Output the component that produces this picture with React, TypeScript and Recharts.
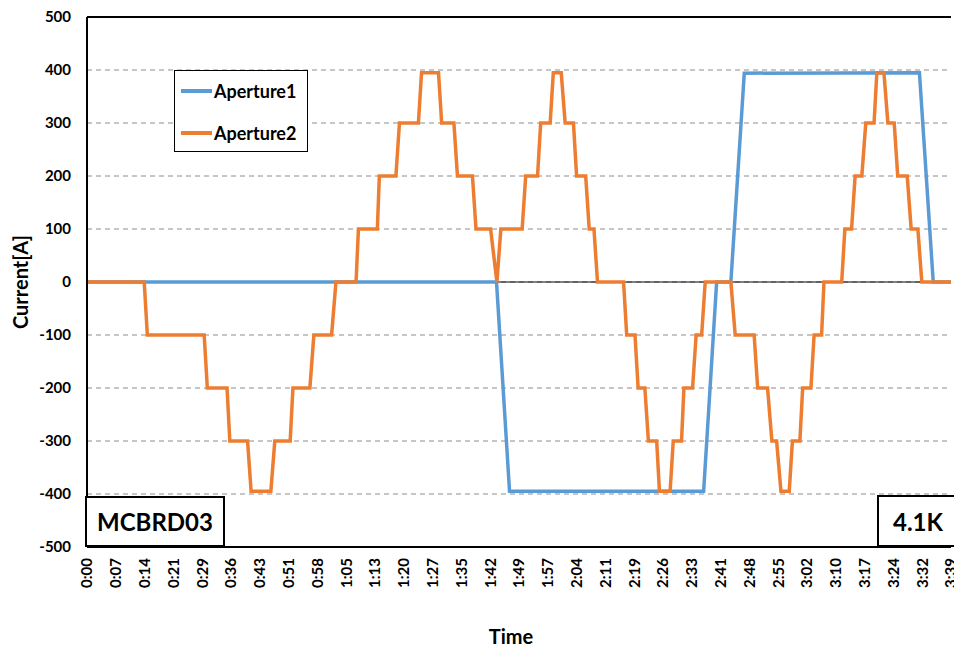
import React from 'react';
import { LineChart, Line, XAxis, YAxis, CartesianGrid, ReferenceLine } from 'recharts';

// Time axis: 0:00 .. 3:39, 30 equal intervals
const TOTAL_SECONDS = 219;
const TICK_LABELS = [
  '0:00', '0:07', '0:14', '0:21', '0:29', '0:36', '0:43', '0:51', '0:58', '1:05',
  '1:13', '1:20', '1:27', '1:35', '1:42', '1:49', '1:57', '2:04', '2:11', '2:19',
  '2:26', '2:33', '2:41', '2:48', '2:55', '3:02', '3:10', '3:17', '3:24', '3:32', '3:39',
];
const TICK_STEP = TOTAL_SECONDS / (TICK_LABELS.length - 1);
const X_TICKS = TICK_LABELS.map((_, i) => i * TICK_STEP);
const Y_TICKS = [-500, -400, -300, -200, -100, 0, 100, 200, 300, 400, 500];

// Aperture1 current profile (seconds, A)
const A1_TIME = [0, 103.8, 107.1, 156.3, 159.6, 163.2, 166.6, 211, 214.5, 219];
const A1_CURRENT = [0, 0, -395, -395, 0, 0, 394, 395, 0, 0];

// Aperture2 current profile (seconds, A)
const A2_TIME = [
  0, 14.5, 15.3, 29.7, 30.5, 35.5, 36.2, 40.7, 41.6, 46.6, 47.6, 51.5, 52.2, 56.5, 57.5, 62, 63.1,
  68.2, 68.8, 73.6, 74.1, 78.3, 79.2, 84, 84.8, 89.1, 89.9, 93, 93.9, 97.7, 98.6, 102.3, 103.9,
  104.9, 110.3, 111.2, 114.2, 115, 117.4, 118.2, 120.2, 121.2, 123.3, 124.1, 126.4, 127.3, 128.5, 129.4,
  136, 136.8, 138.9, 139.7, 141.4, 142.3, 144.4, 145.1, 147.8, 148.6, 150.7, 151.3, 153.5, 154.4, 155.8, 156.7,
  163.2, 164.3, 169.1, 170, 172.5, 173.6, 174.8, 175.9, 178, 178.8, 180.7, 181.4, 183.5, 184.3, 186.2, 186.8,
  191.3, 192.1, 193.8, 194.7, 196.4, 197.4, 199.5, 200.2, 202, 203, 204.6, 205.5, 207.9, 208.9, 210.6, 211.6, 219,
];
const A2_CURRENT = [
  0, 0, -100, -100, -200, -200, -300, -300, -395, -395, -300, -300, -200, -200, -100, -100, 0,
  0, 100, 100, 200, 200, 300, 300, 395, 395, 300, 300, 200, 200, 100, 100, 0,
  100, 100, 200, 200, 300, 300, 395, 395, 300, 300, 200, 200, 100, 100, 0,
  0, -100, -100, -200, -200, -300, -300, -395, -395, -300, -300, -200, -200, -100, -100, 0,
  0, -100, -100, -200, -200, -300, -300, -395, -395, -300, -300, -200, -200, -100, -100, 0,
  0, 100, 100, 200, 200, 300, 300, 395, 395, 300, 300, 200, 200, 100, 100, 0, 0,
];

const SERIES = [
  { name: 'Aperture1', color: '#5B9BD5', time: A1_TIME, current: A1_CURRENT },
  { name: 'Aperture2', color: '#ED7D31', time: A2_TIME, current: A2_CURRENT },
];

const FONT = 'Lato, "Noto Sans", sans-serif';

const toPoints = (time: number[], current: number[]) =>
  time.map((t, i) => ({ t, v: current[i] }));

const XTick = (props: any) => {
  const { x, y, payload } = props;
  const label = TICK_LABELS[Math.round(payload.value / TICK_STEP)];
  return (
    <text
      transform={`translate(${x},${y}) rotate(-90)`}
      x={-11}
      dy="0.36em"
      textAnchor="end"
      fontFamily={FONT}
      fontWeight={700}
      fontSize={15}
      fill="#000"
    >
      {label}
    </text>
  );
};

const YTick = (props: any) => {
  const { x, y, payload } = props;
  return (
    <text
      x={x - 16}
      y={y}
      dy="0.36em"
      textAnchor="end"
      fontFamily={FONT}
      fontWeight={700}
      fontSize={15}
      fill="#000"
    >
      {payload.value}
    </text>
  );
};

const LegendBox = () => (
  <div
    style={{
      position: 'absolute',
      left: 174,
      top: 70,
      width: 134,
      height: 82,
      border: '1.5px solid #000',
      background: '#fff',
      boxSizing: 'border-box',
      paddingTop: 4,
    }}
  >
    {SERIES.map((s) => (
      <div
        key={s.name}
        style={{ display: 'flex', alignItems: 'center', height: 32, marginBottom: 10 }}
      >
        <div style={{ width: 31, height: 3.5, background: s.color, marginLeft: 6, marginRight: 2 }} />
        <span style={{ fontFamily: FONT, fontWeight: 700, fontSize: 18, color: '#000' }}>{s.name}</span>
      </div>
    ))}
  </div>
);

const boxStyle: React.CSSProperties = {
  position: 'absolute',
  border: '2px solid #000',
  background: '#fff',
  boxSizing: 'border-box',
  display: 'flex',
  alignItems: 'center',
  justifyContent: 'center',
  fontFamily: FONT,
  fontWeight: 700,
  fontSize: 24,
  color: '#000',
};

export default function App() {
  return (
    <div
      style={{
        position: 'absolute',
        left: 0,
        top: 0,
        width: 954,
        height: 647,
        overflow: 'hidden',
        background: '#fff',
      }}
    >
      <LineChart width={954} height={647} margin={{ top: 17, right: 3, bottom: 0, left: 0 }}>
        <CartesianGrid vertical={false} stroke="#8c8c8c" strokeDasharray="5 4" strokeWidth={1} />
        <XAxis
          type="number"
          dataKey="t"
          domain={[0, TOTAL_SECONDS]}
          ticks={X_TICKS}
          interval={0}
          height={100}
          tickLine={false}
          tickSize={0}
          tickMargin={0}
          axisLine={{ stroke: '#000', strokeWidth: 2 }}
          tick={<XTick />}
          allowDuplicatedCategory={false}
          label={{
            content: (p: any) => {
              const vb = p.viewBox || {};
              return (
                <text
                  x={vb.x + vb.width / 2 - 8}
                  y={637}
                  dy="0.36em"
                  textAnchor="middle"
                  fontFamily={FONT}
                  fontWeight={700}
                  fontSize={20}
                  fill="#000"
                >
                  Time
                </text>
              );
            },
          }}
        />
        <YAxis
          type="number"
          domain={[-500, 500]}
          ticks={Y_TICKS}
          interval={0}
          width={87}
          tickLine={false}
          tickSize={0}
          tickMargin={0}
          axisLine={{ stroke: '#000', strokeWidth: 2 }}
          tick={<YTick />}
          label={{
            content: (p: any) => {
              const vb = p.viewBox || {};
              const cy = vb.y + vb.height / 2;
              return (
                <text
                  transform={`translate(21,${cy}) rotate(-90)`}
                  dy="0.36em"
                  textAnchor="middle"
                  fontFamily={FONT}
                  fontWeight={700}
                  fontSize={20}
                  fill="#000"
                >
                  Current[A]
                </text>
              );
            },
          }}
        />
        <ReferenceLine y={0} stroke="#000" strokeWidth={1} />
        <ReferenceLine y={500} stroke="#000" strokeWidth={2} />
        {SERIES.map((s) => (
          <Line
            key={s.name}
            name={s.name}
            data={toPoints(s.time, s.current)}
            dataKey="v"
            type="linear"
            stroke={s.color}
            strokeWidth={3.5}
            dot={false}
            activeDot={false}
            isAnimationActive={false}
          />
        ))}
      </LineChart>
      <LegendBox />
      <div style={{ ...boxStyle, left: 85, top: 496, width: 140, height: 51 }}>MCBRD03</div>
      <div
        style={{
          ...boxStyle,
          left: 877,
          top: 495,
          width: 90,
          height: 52,
          justifyContent: 'flex-start',
          paddingLeft: 14,
        }}
      >
        4.1K
      </div>
    </div>
  );
}
